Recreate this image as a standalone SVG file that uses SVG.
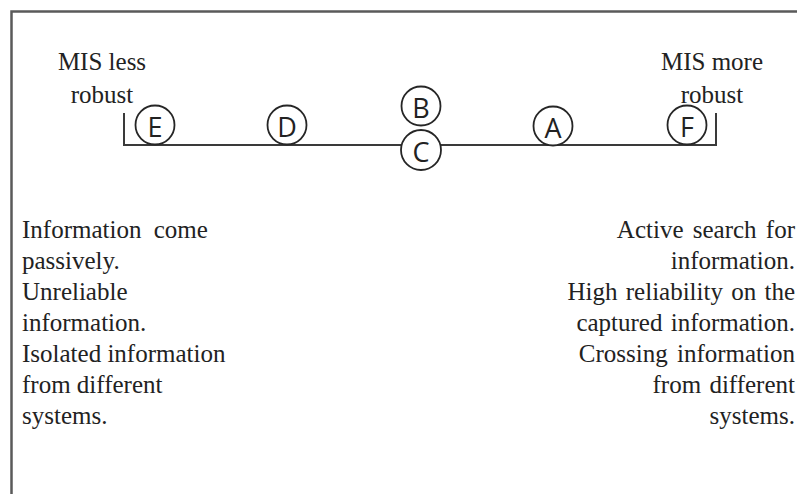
<svg xmlns="http://www.w3.org/2000/svg" width="797" height="494" viewBox="0 0 797 494">
  <style>
    .frame { fill: none; stroke: #5a5a5a; stroke-width: 2.5; }
    .axis { fill: none; stroke: #3a3a3a; stroke-width: 2; }
    .node circle { fill: #fff; stroke: #262626; stroke-width: 1.8; }
    .node text { font-family: "Open Sans", "Liberation Sans", sans-serif; font-size: 27px; fill: #222; text-anchor: middle; dominant-baseline: central; }
    .lbl { font-family: "Liberation Serif", "Times New Roman", serif; font-size: 25px; fill: #222; }
    .mid { text-anchor: middle; }
    .end { text-anchor: end; }
  </style>
  <rect width="797" height="494" fill="#fff"/>

  <!-- outer frame: top and left edges only -->
  <path class="frame" d="M11.5 494 V11.5 H797"/>

  <!-- scale axis with end ticks -->
  <g id="connectors">
    <path class="axis" d="M124 113 V145 H716 V113"/>
  </g>

  <!-- end labels -->
  <g id="less-robust">
    <text class="lbl mid" x="102" y="70">MIS less</text>
    <text class="lbl mid" x="102" y="103">robust</text>
  </g>
  <g id="more-robust">
    <text class="lbl mid" x="712" y="70">MIS more</text>
    <text class="lbl mid" x="712" y="103">robust</text>
  </g>

  <!-- positions on the scale -->
  <g id="node-E" class="node"><circle cx="155" cy="125" r="19.5"/><text x="155" y="126">E</text></g>
  <g id="node-D" class="node"><circle cx="287" cy="125" r="19.5"/><text x="287" y="126">D</text></g>
  <g id="node-B" class="node"><circle cx="421" cy="106" r="19.5"/><text x="421" y="107">B</text></g>
  <g id="node-C" class="node"><circle cx="421" cy="150" r="20"/><text x="421" y="151">C</text></g>
  <g id="node-A" class="node"><circle cx="553" cy="126" r="19.5"/><text x="553" y="127">A</text></g>
  <g id="node-F" class="node"><circle cx="687" cy="125" r="19.5"/><text x="687" y="126">F</text></g>

  <!-- descriptions -->
  <g id="left-description" class="lbl">
    <text x="22" y="238" word-spacing="6">Information come</text>
    <text x="22" y="269">passively.</text>
    <text x="22" y="300">Unreliable</text>
    <text x="22" y="331">information.</text>
    <text x="22" y="362">Isolated information</text>
    <text x="22" y="393">from different</text>
    <text x="22" y="424">systems.</text>
  </g>
  <g id="right-description" class="lbl end">
    <text x="795" y="238" word-spacing="3">Active search for</text>
    <text x="795" y="269">information.</text>
    <text x="795" y="300" word-spacing="2">High reliability on the</text>
    <text x="795" y="331" word-spacing="2">captured information.</text>
    <text x="795" y="362" word-spacing="3">Crossing information</text>
    <text x="795" y="393" word-spacing="2">from different</text>
    <text x="795" y="424">systems.</text>
  </g>
</svg>
